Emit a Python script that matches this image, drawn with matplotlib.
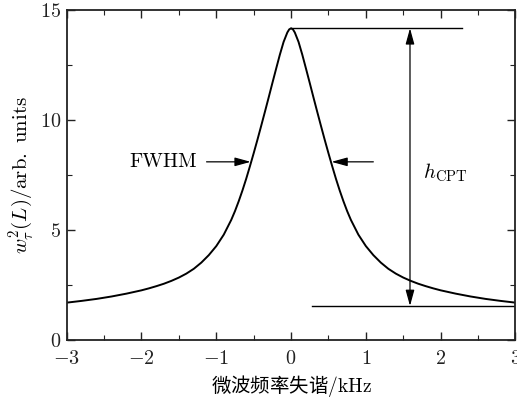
import matplotlib
matplotlib.use("Agg")
import matplotlib.pyplot as plt

plt.rcParams['mathtext.fontset'] = 'cm'
plt.rcParams['font.family'] = 'serif'
plt.rcParams['font.serif'] = ['cmr10', 'DejaVu Serif']
plt.rcParams['axes.formatter.use_mathtext'] = True
plt.rcParams['axes.unicode_minus'] = True

# CPT resonance versus microwave detuning (kHz)
detuning = [-3.0, -2.8, -2.6, -2.4, -2.2, -2.0, -1.9, -1.8, -1.7, -1.6,
            -1.5, -1.4, -1.3, -1.2, -1.1, -1.0, -0.9, -0.8, -0.75, -0.7,
            -0.65, -0.6, -0.55, -0.5, -0.45, -0.4, -0.35, -0.3, -0.25, -0.2,
            -0.15, -0.1, -0.05, -0.025, 0.0, 0.025, 0.05, 0.1, 0.15, 0.2,
            0.25, 0.3, 0.35, 0.4, 0.45, 0.5, 0.55, 0.6, 0.65, 0.7,
            0.75, 0.8, 0.9, 1.0, 1.1, 1.2, 1.3, 1.4, 1.5, 1.6,
            1.7, 1.8, 1.9, 2.0, 2.2, 2.4, 2.6, 2.8, 3.0]
signal = [1.70, 1.78, 1.87, 1.98, 2.11, 2.26, 2.35, 2.45, 2.56, 2.69,
          2.84, 3.02, 3.24, 3.52, 3.86, 4.27, 4.79, 5.46, 5.86, 6.31,
          6.80, 7.33, 7.90, 8.49, 9.10, 9.73, 10.37, 11.02, 11.68, 12.33,
          12.97, 13.55, 13.98, 14.12, 14.17, 14.12, 13.98, 13.55, 12.97, 12.33,
          11.68, 11.02, 10.37, 9.73, 9.10, 8.49, 7.90, 7.33, 6.80, 6.31,
          5.86, 5.46, 4.79, 4.27, 3.86, 3.52, 3.24, 3.02, 2.84, 2.69,
          2.56, 2.45, 2.35, 2.26, 2.11, 1.98, 1.87, 1.78, 1.70]

peak = 14.17
base = 1.55
fwhm_level = 8.1
fwhm_half = 0.54
h_x = 1.59

fig = plt.figure(figsize=(5.17, 4.01), dpi=100)
ax = fig.add_axes([0.129, 0.152, 0.868, 0.823])

ax.plot(detuning, signal, color='black', lw=1.4)

# reference lines for the peak height
ax.plot([0.0, 2.28], [peak, peak], color='black', lw=1.0)
ax.plot([0.28, 3.0], [base, base], color='black', lw=1.0)
head = '-|>,head_length=0.8,head_width=0.22'
ax.annotate('', xy=(h_x, peak), xytext=(h_x, base),
            arrowprops=dict(arrowstyle='<|-|>,head_length=0.8,head_width=0.22',
                            color='black', lw=0.9, mutation_scale=12,
                            shrinkA=0, shrinkB=0))
ax.text(1.76, 7.6, r'$h_{\mathrm{CPT}}$', fontsize=15, ha='left', va='center')

# FWHM arrows
ax.annotate('', xy=(-fwhm_half, fwhm_level), xytext=(-1.13, fwhm_level),
            arrowprops=dict(arrowstyle=head, color='black', lw=0.9,
                            mutation_scale=12, shrinkA=0, shrinkB=0))
ax.annotate('', xy=(fwhm_half, fwhm_level), xytext=(1.10, fwhm_level),
            arrowprops=dict(arrowstyle=head, color='black', lw=0.9,
                            mutation_scale=12, shrinkA=0, shrinkB=0))
ax.text(-1.26, fwhm_level, 'FWHM', fontsize=14.5, ha='right', va='center')

ax.set_xlim(-3, 3)
ax.set_ylim(0, 15)
ax.set_xticks([-3, -2, -1, 0, 1, 2, 3])
ax.set_xticks([-2.5, -1.5, -0.5, 0.5, 1.5, 2.5], minor=True)
ax.set_yticks([0, 5, 10, 15])
ax.set_yticks([2.5, 7.5, 12.5], minor=True)
ax.tick_params(which='both', direction='in', top=True, right=True,
               labelsize=14.5, colors='#222222')
ax.tick_params(axis='x', which='both', pad=7)
ax.tick_params(axis='y', which='both', pad=4)
ax.tick_params(which='major', length=6, width=1.0)
ax.tick_params(which='minor', length=3.5, width=0.8)
for s in ax.spines.values():
    s.set_linewidth(1.3)
    s.set_color('#222222')

ax.set_xlabel(r'微波频率失谐$/\mathrm{kHz}$', fontsize=14,
              family=['Noto Sans CJK SC', 'DejaVu Sans'], labelpad=4)
ax.set_ylabel(r'$w_{\tau}^{2}(L)/\mathrm{arb.\ units}$', fontsize=15, labelpad=3)

fig.savefig('out.png', dpi=100)
